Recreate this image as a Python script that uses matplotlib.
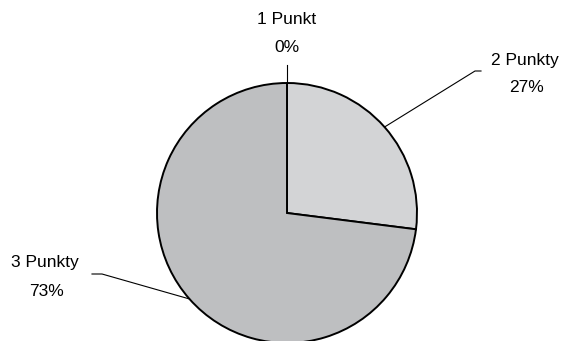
import numpy as np
import matplotlib
matplotlib.use("Agg")
import matplotlib.pyplot as plt

labels = ["1 Punkt", "2 Punkty", "3 Punkty"]
shares = [0, 27, 73]
colors = ["#c8c9cb", "#d3d4d6", "#bebfc1"]

plt.rcParams["font.family"] = ["Liberation Sans", "DejaVu Sans"]

fig = plt.figure(figsize=(5.63, 3.41), dpi=100)
ax = fig.add_axes([0, 0, 1, 1])

cx, cy, r = 287, 128, 130
wedges, _ = ax.pie(
    shares,
    colors=colors,
    startangle=90,
    counterclock=False,
    radius=r,
    center=(cx, cy),
    wedgeprops={"edgecolor": "black", "linewidth": 1.4},
    frame=True,
)
ax.set_xlim(0, 563)
ax.set_ylim(0, 341)
ax.set_aspect("equal")
ax.axis("off")

# leader elbows, line ends and (label, value) text centres
elbows = [(287, 276), (475, 270), (102, 67)]
ends = [(287, 276), (481, 270), (92, 67)]
name_pos = [(287, 321), (525, 281), (45, 79)]
value_pos = [(287, 293), (526, 253), (47, 50)]

for w, lab, val, elb, end, npos, vpos in zip(wedges, labels, shares, elbows,
                                             ends, name_pos, value_pos):
    ang = np.deg2rad((w.theta1 + w.theta2) / 2)
    sx, sy = cx + r * np.cos(ang), cy + r * np.sin(ang)
    ax.plot([sx, elb[0], end[0]], [sy, elb[1], end[1]], color="black", lw=0.8)
    ax.text(*npos, lab, ha="center", va="center", fontsize=12.5)
    ax.text(*vpos, f"{val}%", ha="center", va="center", fontsize=12.5)

fig.savefig("out.png", dpi=100)
